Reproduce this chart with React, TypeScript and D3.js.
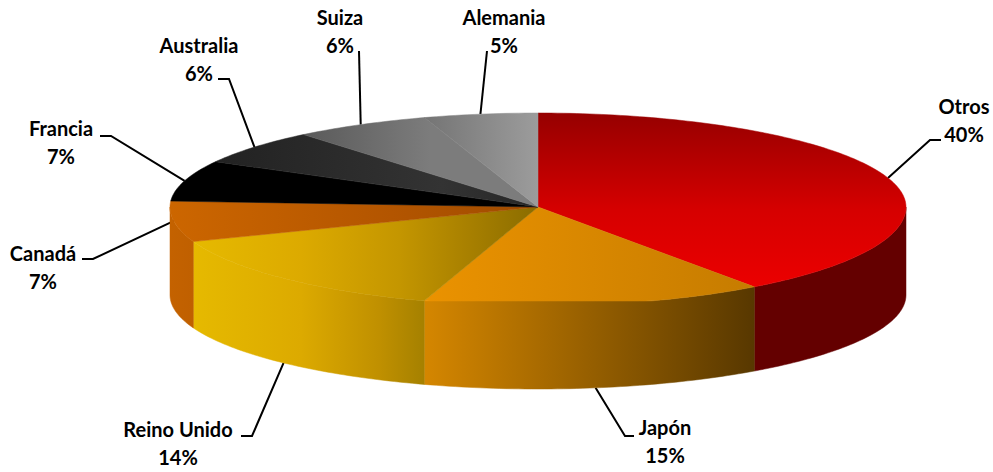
import React from "react";
import * as d3 from "d3";

// ---- data ----
const categories = ["Otros", "Japón", "Reino Unido", "Canadá", "Francia", "Australia", "Suiza", "Alemania"];
const shares = [40, 15, 14.3, 6.7, 7, 6, 6, 5];

// ---- layout ----
const W = 993, H = 472;
const cx = 538, cy = 207, rx = 368, ry = 94, depth = 88;
const frontBulge = 1.05; // the front of the top face is flattened against its lowest line
const FONT = "Lato, Carlito, Calibri, sans-serif";
const FONT_SIZE = 20;

// label centre x, first-line baseline y, elbow x/y, leader end x, leader starts at the wall's lower edge?
const labelLayout = [
  { x: 964, y: 114, ex: 930, ey: 140, ox: 941, bottom: false },
  { x: 665, y: 435, ex: 625, ey: 436, ox: 634, bottom: true },
  { x: 178, y: 437, ex: 252, ey: 436, ox: 241, bottom: true },
  { x: 43, y: 261, ex: 93, ey: 259, ox: 82, bottom: false },
  { x: 61, y: 136, ex: 111, ey: 136, ox: 100, bottom: false },
  { x: 199, y: 53, ex: 229, ey: 79, ox: 218, bottom: false },
  { x: 340, y: 25, ex: 359, ey: 51, ox: 359, bottom: false },
  { x: 504, y: 25, ex: 487, ey: 51, ox: 487, bottom: false },
];
const LINE_GAP = 27.5;

type Stop = [number, string];
// gradient axis [x1,y1,x2,y2] and stops
const topPaint: { axis: number[]; stops: Stop[] }[] = [
  { axis: [0, 113, 0, 290], stops: [[0, "#960000"], [0.55, "#d60000"], [1, "#ec0000"]] },
  { axis: [430, 0, 754, 0], stops: [[0, "#ea9200"], [1, "#c67c00"]] },
  { axis: [190, 0, 538, 0], stops: [[0, "#e6ba00"], [0.32, "#dcaa00"], [0.6, "#c49600"], [0.8, "#a88000"], [1, "#8a6c00"]] },
  { axis: [171, 0, 538, 0], stops: [[0, "#cc6600"], [0.6, "#b35500"], [1, "#a04c00"]] },
  { axis: [171, 0, 538, 0], stops: [[0, "#000000"], [1, "#000000"]] },
  { axis: [218, 0, 538, 0], stops: [[0, "#222222"], [0.7, "#333333"], [1, "#262626"]] },
  { axis: [304, 0, 430, 0], stops: [[0, "#5a5a5a"], [1, "#7c7c7c"]] },
  { axis: [424, 0, 538, 0], stops: [[0, "#747474"], [1, "#9c9c9c"]] },
];
const wallPaint: { axis: number[]; stops: Stop[] }[] = [
  { axis: [754, 0, 906, 0], stops: [[0, "#640000"], [1, "#640000"]] },
  { axis: [426, 0, 754, 0], stops: [[0, "#d48600"], [1, "#583800"]] },
  { axis: [190, 0, 426, 0], stops: [[0, "#e6ba00"], [0.47, "#dcaa00"], [0.8, "#c09000"], [1, "#a48000"]] },
  { axis: [170, 0, 192, 0], stops: [[0, "#c46200"], [1, "#c06000"]] },
];

// ---- geometry through d3 ----
const pie = d3.pie<number>().sort(null).value((d) => d);
const arcs = pie(shares);

const project = (a: number, dy = 0): [number, number] => [
  cx + rx * Math.sin(a),
  cy - ry * Math.cos(a) + dy,
];
// rim of the top face: same as project, except the front is pushed down and flattened
const projectTop = (a: number): [number, number] => {
  const c = -Math.cos(a);
  const y = c > 0 ? Math.min(c * frontBulge, 1) : c;
  return [cx + rx * Math.sin(a), cy + ry * y];
};
const line = d3.line<[number, number]>();

const sweep = (a0: number, a1: number): number[] => {
  const n = Math.max(2, Math.ceil(((a1 - a0) * 180) / Math.PI));
  return d3.range(n + 1).map((i) => a0 + ((a1 - a0) * i) / n);
};

const topPath = (a0: number, a1: number) =>
  line([[cx, cy], ...sweep(a0, a1).map(projectTop)])! + "Z";

const wallPath = (a0: number, a1: number) => {
  const s = Math.max(a0, Math.PI / 2);
  const e = Math.min(a1, (3 * Math.PI) / 2);
  if (e <= s) return null;
  const angles = sweep(s, e);
  return line([...angles.map(projectTop), ...angles.map((a) => project(a, depth)).reverse()])! + "Z";
};

const Grad = ({ id, axis, stops }: { id: string; axis: number[]; stops: Stop[] }) => (
  <linearGradient id={id} gradientUnits="userSpaceOnUse" x1={axis[0]} y1={axis[1]} x2={axis[2]} y2={axis[3]}>
    {stops.map(([o, c], i) => (
      <stop key={i} offset={o} stopColor={c} />
    ))}
  </linearGradient>
);

export default function App() {
  return (
    <svg
      width={W}
      height={H}
      viewBox={`0 0 ${W} ${H}`}
      style={{ position: "absolute", left: 0, top: 0, background: "#fff" }}
    >
      <defs>
        {topPaint.map((p, i) => (
          <Grad key={i} id={`top${i}`} axis={p.axis} stops={p.stops} />
        ))}
        {wallPaint.map((p, i) => (
          <Grad key={i} id={`wall${i}`} axis={p.axis} stops={p.stops} />
        ))}
      </defs>

      {/* leaders under the pie */}
      {arcs.map((a, i) => {
        const l = labelLayout[i];
        const mid = (a.startAngle + a.endAngle) / 2;
        const start = project(mid, l.bottom ? depth : 0);
        return (
          <path
            key={i}
            d={line([start, [l.ex, l.ey], [l.ox, l.ey]])!}
            fill="none"
            stroke="#000"
            strokeWidth={2}
          />
        );
      })}

      {/* front walls */}
      {arcs.map((a, i) => {
        const d = wallPath(a.startAngle, a.endAngle);
        return d ? (
          <path key={i} d={d} fill={`url(#wall${i})`} stroke={`url(#wall${i})`} strokeWidth={0.5} />
        ) : null;
      })}

      {/* top faces: latter slices first so that the seams stay closed */}
      {arcs.map((a, i) => (
        <path
          key={i}
          d={topPath(a.startAngle, a.endAngle)}
          fill={`url(#top${i})`}
          stroke={`url(#top${i})`}
          strokeWidth={0.5}
        />
      ))}

      {/* labels */}
      {arcs.map((a, i) => {
        const l = labelLayout[i];
        return (
          <g
            key={i}
            fontFamily={FONT}
            fontWeight={700}
            fontSize={FONT_SIZE}
            textAnchor="middle"
            fill="#000"
          >
            <text x={l.x} y={l.y}>{categories[i]}</text>
            <text x={l.x} y={l.y + LINE_GAP}>{`${Math.round(a.value)}%`}</text>
          </g>
        );
      })}
    </svg>
  );
}
